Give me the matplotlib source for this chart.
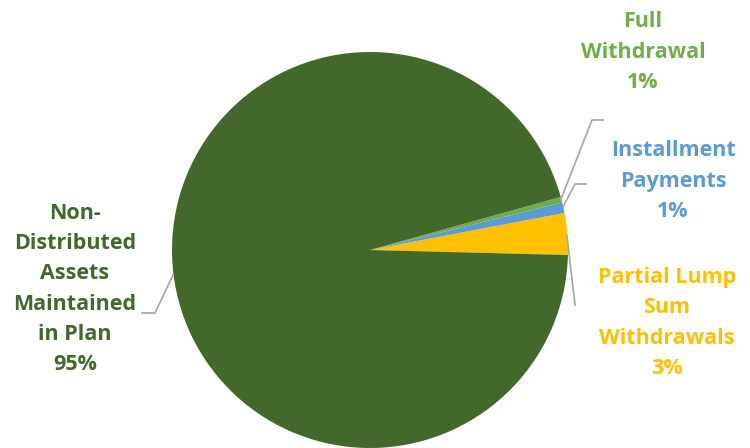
import matplotlib.pyplot as plt

# slice data (counter-clockwise from just below 3 o'clock)
labels = ["Partial Lump\nSum\nWithdrawals\n3%", "Installment\nPayments\n1%",
          "Full\nWithdrawal\n1%", "Non-\nDistributed\nAssets\nMaintained\nin Plan\n95%"]
values = [3.4, 0.86, 0.46, 95.28]
colors = ["#FFC000", "#5B9BD5", "#70AD47", "#43682B"]

# label centres and leader lines, in pixels of the 750x448 picture
label_xy = [(667, 323), (673, 181), (643, 52), (75, 289)]
leaders = [
    [(567, 236), (575, 305)],
    [(563, 207), (575, 184), (586, 184)],
    [(561, 199), (592, 120), (603, 120)],
    [(173, 275), (155, 313), (142, 313)],
]

W, H = 750, 448
cx, cy, r = 370, 250, 198

fig = plt.figure(figsize=(7.5, 4.48), dpi=100)
ax = fig.add_axes([(cx - r) / W, (H - cy - r) / H, 2 * r / W, 2 * r / H])
ax.pie(values, colors=colors, startangle=-1.45, counterclock=True,
       wedgeprops=dict(linewidth=0))
ax.set_xlim(-1, 1)
ax.set_ylim(-1, 1)
ax.set_aspect("equal")
ax.set_clip_on(False)


def to_data(p):
    return (p[0] - cx) / r, (cy - p[1]) / r


for lab, col, xy in zip(labels, colors, label_xy):
    x, y = to_data(xy)
    ax.text(x, y, lab, color=col, ha="center", va="center", fontsize=15.5,
            fontweight="bold", family="Open Sans", linespacing=1.58,
            clip_on=False)

for pts in leaders:
    d = [to_data(p) for p in pts]
    ax.plot([p[0] for p in d], [p[1] for p in d], color="#A6A6A6", lw=1.2,
            clip_on=False)

fig.savefig("out.png", dpi=100)
